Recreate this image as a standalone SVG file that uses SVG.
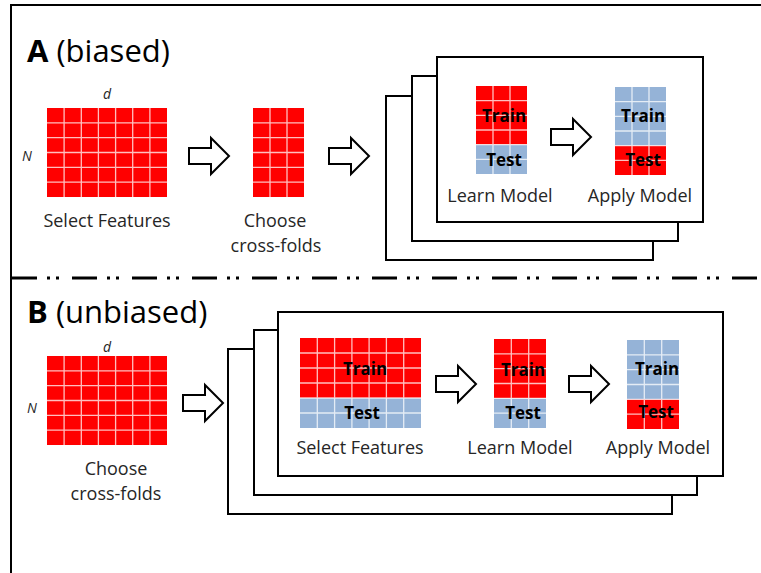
<svg xmlns="http://www.w3.org/2000/svg" width="761" height="573" viewBox="0 0 761 573">
<style>
.red{fill:#FF0000}
.blue{fill:#95B3D7}
.grid{stroke:#FFFFFF;stroke-opacity:0.75;stroke-width:1.3;fill:none}
.box{fill:#FFFFFF;stroke:#000000;stroke-width:2}
.arrow{fill:#FFFFFF;stroke:#000000;stroke-width:2;stroke-linejoin:miter}
.title{font-family:"Open Sans","DejaVu Sans",sans-serif;font-size:31px;fill:#000}
.lbl{font-family:"Open Sans","DejaVu Sans",sans-serif;font-size:18px;fill:#262626;text-anchor:middle}
.tt{font-family:"Open Sans","DejaVu Sans",sans-serif;font-size:17px;font-weight:bold;fill:#000;text-anchor:middle}
.dim{font-family:"Open Sans","DejaVu Sans",sans-serif;font-size:14px;font-style:italic;fill:#262626;text-anchor:middle}
</style>
<defs>
<path id="arr" d="M0,-8 H22 V-18 L40,0 L22,18 V8 H0 Z"/>
</defs>
<rect width="761" height="573" fill="#FFFFFF"/>
<g id="frame">
<path d="M11,573 V5 H761" fill="none" stroke="#000" stroke-width="2"/>
<line x1="12" y1="278" x2="761" y2="278" stroke="#000" stroke-width="3" stroke-dasharray="25 10 3 6 3 13"/>
</g>

<g id="panelA-title"><text class="title" x="27" y="62"><tspan font-weight="bold">A</tspan> (biased)</text></g>

<g id="A-select-features">
<rect class="red" x="47" y="108" width="120" height="89"/>
<path class="grid" d="M64.1,108V197M81.3,108V197M98.4,108V197M115.6,108V197M132.7,108V197M149.9,108V197M47,122.8H167M47,137.7H167M47,152.5H167M47,167.3H167M47,182.2H167"/>
<text class="dim" x="107" y="99">d</text>
<text class="dim" x="27" y="161">N</text>
<text class="lbl" x="107" y="227">Select Features</text>
</g>

<g id="A-choose-folds">
<rect class="red" x="253" y="108" width="51" height="89"/>
<path class="grid" d="M270,108V197M287,108V197M253,122.8H304M253,137.7H304M253,152.5H304M253,167.3H304M253,182.2H304"/>
<text class="lbl" x="275" y="227">Choose</text>
<text class="lbl" x="276" y="252">cross-folds</text>
</g>

<g id="A-folds">
<rect class="box" x="386" y="96" width="267" height="164"/>
<rect class="box" x="412" y="76" width="266" height="165"/>
<rect class="box" x="437" y="57" width="266" height="165"/>
</g>

<g id="A-learn-model">
<rect class="red" x="476" y="86" width="51" height="58.7"/>
<rect class="blue" x="476" y="144.7" width="51" height="29.3"/>
<path class="grid" d="M493,86V174M510,86V174M476,100.7H527M476,115.3H527M476,130H527M476,144.7H527M476,159.3H527"/>
<text class="tt" x="504" y="122">Train</text>
<text class="tt" x="504" y="166">Test</text>
<text class="lbl" x="500" y="202">Learn Model</text>
</g>

<g id="A-apply-model">
<rect class="blue" x="615" y="87" width="51" height="58.7"/>
<rect class="red" x="615" y="145.7" width="51" height="29.3"/>
<path class="grid" d="M632,87V175M649,87V175M615,101.7H666M615,116.3H666M615,131H666M615,145.7H666M615,160.3H666"/>
<text class="tt" x="643" y="122">Train</text>
<text class="tt" x="643" y="166">Test</text>
<text class="lbl" x="640" y="202">Apply Model</text>
</g>

<g id="panelB-title"><text class="title" x="27" y="323"><tspan font-weight="bold">B</tspan> (unbiased)</text></g>

<g id="B-choose-folds">
<rect class="red" x="47" y="356" width="120" height="89"/>
<path class="grid" d="M64.1,356V445M81.3,356V445M98.4,356V445M115.6,356V445M132.7,356V445M149.9,356V445M47,370.8H167M47,385.7H167M47,400.5H167M47,415.3H167M47,430.2H167"/>
<text class="dim" x="107" y="352">d</text>
<text class="dim" x="32" y="413">N</text>
<text class="lbl" x="116" y="475">Choose</text>
<text class="lbl" x="116" y="500">cross-folds</text>
</g>

<g id="B-folds">
<rect class="box" x="228" y="349" width="444" height="165"/>
<rect class="box" x="254" y="330" width="443" height="165"/>
<rect class="box" x="278" y="312" width="445" height="164"/>
</g>

<g id="B-select-features">
<rect class="red" x="300" y="338" width="121" height="60"/>
<rect class="blue" x="300" y="398" width="121" height="30"/>
<path class="grid" d="M317.3,338V428M334.6,338V428M351.9,338V428M369.1,338V428M386.4,338V428M403.7,338V428M300,353H421M300,368H421M300,383H421M300,398H421M300,413H421"/>
<text class="tt" x="365" y="375">Train</text>
<text class="tt" x="362" y="419">Test</text>
<text class="lbl" x="360" y="454">Select Features</text>
</g>

<g id="B-learn-model">
<rect class="red" x="494" y="339" width="52" height="59.3"/>
<rect class="blue" x="494" y="398.3" width="52" height="29.7"/>
<path class="grid" d="M511.3,339V428M528.7,339V428M494,353.8H546M494,368.7H546M494,383.5H546M494,398.3H546M494,413.2H546"/>
<text class="tt" x="523" y="376">Train</text>
<text class="tt" x="523" y="419">Test</text>
<text class="lbl" x="520" y="454">Learn Model</text>
</g>

<g id="B-apply-model">
<rect class="blue" x="627" y="340" width="52" height="59.3"/>
<rect class="red" x="627" y="399.3" width="52" height="29.7"/>
<path class="grid" d="M644.3,340V429M661.7,340V429M627,354.8H679M627,369.7H679M627,384.5H679M627,399.3H679M627,414.2H679"/>
<text class="tt" x="657" y="375">Train</text>
<text class="tt" x="656" y="418">Test</text>
<text class="lbl" x="658" y="454">Apply Model</text>
</g>

<g id="connectors">
<use href="#arr" class="arrow" transform="translate(189,156)"/>
<use href="#arr" class="arrow" transform="translate(329,156)"/>
<use href="#arr" class="arrow" transform="translate(551,137)"/>
<use href="#arr" class="arrow" transform="translate(183,403)"/>
<use href="#arr" class="arrow" transform="translate(436,384)"/>
<use href="#arr" class="arrow" transform="translate(569,384)"/>
</g>
</svg>
